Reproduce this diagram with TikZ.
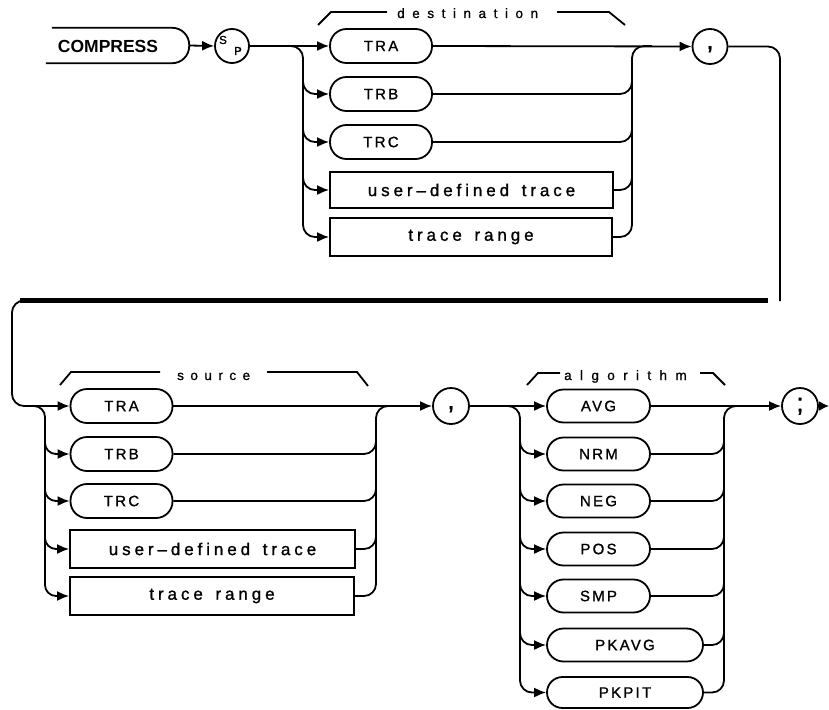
\documentclass[tikz,border=0pt]{standalone}
\usepackage{fontspec}
\setmainfont{Liberation Sans}
\newfontfamily\capsfam[LetterSpace=15,FakeBold=1.2]{Liberation Sans}
\newfontfamily\lowfam[LetterSpace=23,FakeBold=1.2]{Liberation Sans}
\newfontfamily\dlblfam[LetterSpace=56,FakeBold=1]{Liberation Sans}
\newfontfamily\slblfam[LetterSpace=48,FakeBold=1]{Liberation Sans}
\newfontfamily\albfam[LetterSpace=62,FakeBold=1]{Liberation Sans}
\newfontfamily\punctfam[FakeBold=1.2]{Liberation Sans}
\usetikzlibrary{arrows.meta,calc}
\tikzset{
  ln/.style={line width=1.8pt},
  arr/.style={-{Latex[length=12pt,width=10pt]}},
  rc/.style={rounded corners=12pt},
  opt/.style={draw, line width=1.8pt, rounded corners=16.5pt, minimum height=34pt, minimum width=102pt, inner sep=0pt, font=\capsfam\fontsize{15pt}{15pt}\selectfont},
  box/.style={draw, line width=1.8pt, minimum height=37pt, minimum width=284pt, inner sep=0pt, font=\lowfam\fontsize{17pt}{17pt}\selectfont},
  circ/.style={draw, circle, line width=1.8pt, minimum size=35pt, inner sep=0pt},
  punct/.style={inner sep=0pt, anchor=base, font=\punctfam\fontsize{26pt}{26pt}\selectfont},
  lbl/.style={anchor=base west, inner sep=0pt},
}
\newcommand{\wsp}{\hspace{4pt}}
\begin{document}
\begin{tikzpicture}[x=1pt,y=-1pt]
\useasboundingbox (0,0) rectangle (829,709);

% ---------- top row ----------
\node[minimum width=143pt, minimum height=35pt, inner sep=0pt] (cmpx) at (117.5,45.5) {};
\draw[ln, rounded corners=17pt] ($(cmpx.north west)+(6,0)$) -- (cmpx.north east) -- (cmpx.south east) -- (cmpx.south west);
\node[inner sep=0pt, font=\bfseries\fontsize{17.5pt}{17.5pt}\selectfont] (cmp) at (108,46) {COMPRESS};
\node[circ, minimum size=34pt] (sp) at (232,46) {};
\node[inner sep=0pt, font=\punctfam\fontsize{11.5pt}{11.5pt}\selectfont] (spS) at (223,40) {S};
\node[inner sep=0pt, font=\punctfam\fontsize{11.5pt}{11.5pt}\selectfont] (spP) at (238,51) {P};
\draw[ln,arr] (cmpx.east) -- (sp.west);

\node[opt] (tra) at (381,46) {TRA};
\node[opt] (trb) at (381,94) {TRB};
\node[opt] (trc) at (381,142) {TRC};
\node[box, minimum width=283pt, minimum height=36pt] (udt) at (471.5,190) {user–defined \wsp trace};
\node[box, minimum width=282pt, minimum height=38pt] (trr) at (471,237) {trace \wsp range};
\node[circ] (c1) at (710,46.5) {};
\node[punct] (cm1) at (710,49) {,};

\draw[ln,arr] (sp.east) -- (tra.west);
\draw[ln,rc,arr] (285,46) -- (303,46) -- (303,237) -- (trr.west);
\draw[ln,rc,arr] (303,75) -- (303,94) -- (trb.west);
\draw[ln,rc,arr] (303,123) -- (303,142) -- (trc.west);
\draw[ln,rc,arr] (303,171) -- (303,190) -- (udt.west);

\draw[ln,arr] (tra.east) -- (c1.west);
\draw[ln,rc] (trr.east) -- (632,237) -- (632,46) -- (652,46);
\draw[ln,rc] (trb.east) -- (632,94) -- (632,75);
\draw[ln,rc] (trc.east) -- (632,142) -- (632,123);
\draw[ln,rc] (udt.east) -- (632,190) -- (632,171);

\draw[ln] (318,25) -- (331,12) -- (387,12);
\node[lbl, font=\dlblfam\fontsize{13.5pt}{13.5pt}\selectfont] (dlbl) at (397,18) {destination};
\draw[ln] (557,12) -- (609,12) -- (625,25);

% ---------- wrap ----------
\coordinate (wr) at (780,301);
\draw[ln,rc] (c1.east) -- (780,46.5) -- (wr);
\draw[line width=4.5pt] (768,300.5) -- (20,300.5);
\coordinate (wl) at (26,300.5);

% ---------- source ----------
\node[opt] (tra2) at (121.5,406) {TRA};
\node[opt] (trb2) at (121.5,454) {TRB};
\node[opt] (trc2) at (121.5,501) {TRC};
\node[box, minimum width=285pt, minimum height=38pt] (udt2) at (212.5,549) {user–defined \wsp trace};
\node[box, minimum width=284pt, minimum height=38pt] (trr2) at (212,596) {trace \wsp range};
\node[circ, minimum size=36pt] (c2) at (451,406) {};
\node[punct] (cm2) at (451,409) {,};

\draw[ln,arr,rounded corners=12pt] (wl) -- (12,300.5) -- (12,406) -- (tra2.west);
\draw[ln,rounded corners=11pt,arr] (30,406) -- (45,406) -- (45,596) -- (trr2.west);
\draw[ln,rounded corners=11pt,arr] (45,435) -- (45,454) -- (trb2.west);
\draw[ln,rounded corners=11pt,arr] (45,482) -- (45,501) -- (trc2.west);
\draw[ln,rounded corners=11pt,arr] (45,530) -- (45,549) -- (udt2.west);

\draw[ln,arr] (tra2.east) -- (c2.west);
\draw[ln,rc] (trr2.east) -- (376,596) -- (376,406) -- (396,406);
\draw[ln,rc] (trb2.east) -- (376,454) -- (376,435);
\draw[ln,rc] (trc2.east) -- (376,501) -- (376,482);
\draw[ln,rc] (udt2.east) -- (376,549) -- (376,530);

\draw[ln] (60,385) -- (71,372) -- (160,372);
\node[lbl, font=\slblfam\fontsize{13.5pt}{13.5pt}\selectfont] (slbl) at (177,380) {source};
\draw[ln] (267,372) -- (357,372) -- (368,386);

% ---------- algorithm ----------
\node[opt, minimum width=103pt, minimum height=33pt] (avg) at (598.5,406) {AVG};
\node[opt, minimum width=103pt, minimum height=33pt] (nrm) at (598.5,454) {NRM};
\node[opt, minimum width=103pt, minimum height=33pt] (neg) at (598.5,501) {NEG};
\node[opt, minimum width=103pt, minimum height=33pt] (pos) at (598.5,549) {POS};
\node[opt, minimum width=103pt, minimum height=33pt] (smp) at (598.5,596) {SMP};
\node[opt, minimum width=156pt, minimum height=33pt] (pkavg) at (625,645) {PKAVG};
\node[opt, minimum width=156pt, minimum height=31pt, rounded corners=15.5pt] (pkpit) at (625,692.5) {PKPIT};
\node[circ, minimum size=36pt] (c3) at (800,406) {};
\node[punct] (sc3) at (800,411.5) {;};

\draw[ln,arr] (c2.east) -- (avg.west);
\draw[ln,rc,arr] (503,406) -- (520,406) -- (520,692.5) -- (pkpit.west);
\draw[ln,rc,arr] (520,435) -- (520,454) -- (nrm.west);
\draw[ln,rc,arr] (520,482) -- (520,501) -- (neg.west);
\draw[ln,rc,arr] (520,530) -- (520,549) -- (pos.west);
\draw[ln,rc,arr] (520,577) -- (520,596) -- (smp.west);
\draw[ln,rc,arr] (520,626) -- (520,645) -- (pkavg.west);

\draw[ln,arr] (avg.east) -- (c3.west);
\draw[ln,rc] (pkpit.east) -- (724,692.5) -- (724,406) -- (745,406);
\draw[ln,rc] (nrm.east) -- (724,454) -- (724,435);
\draw[ln,rc] (neg.east) -- (724,501) -- (724,482);
\draw[ln,rc] (pos.east) -- (724,549) -- (724,530);
\draw[ln,rc] (smp.east) -- (724,596) -- (724,577);
\draw[ln,rc] (pkavg.east) -- (724,645) -- (724,626);

\coordinate (out) at (829,406);
\draw[ln,-{Latex[length=10pt,width=10pt]}] (c3.east) -- (out);

\draw[ln] (527,385) -- (538,373) -- (560,373);
\node[lbl, font=\albfam\fontsize{13.5pt}{13.5pt}\selectfont] (albl) at (564,380) {algorithm};
\draw[ln] (700,373) -- (713,373) -- (725,385);
\end{tikzpicture}
\end{document}
